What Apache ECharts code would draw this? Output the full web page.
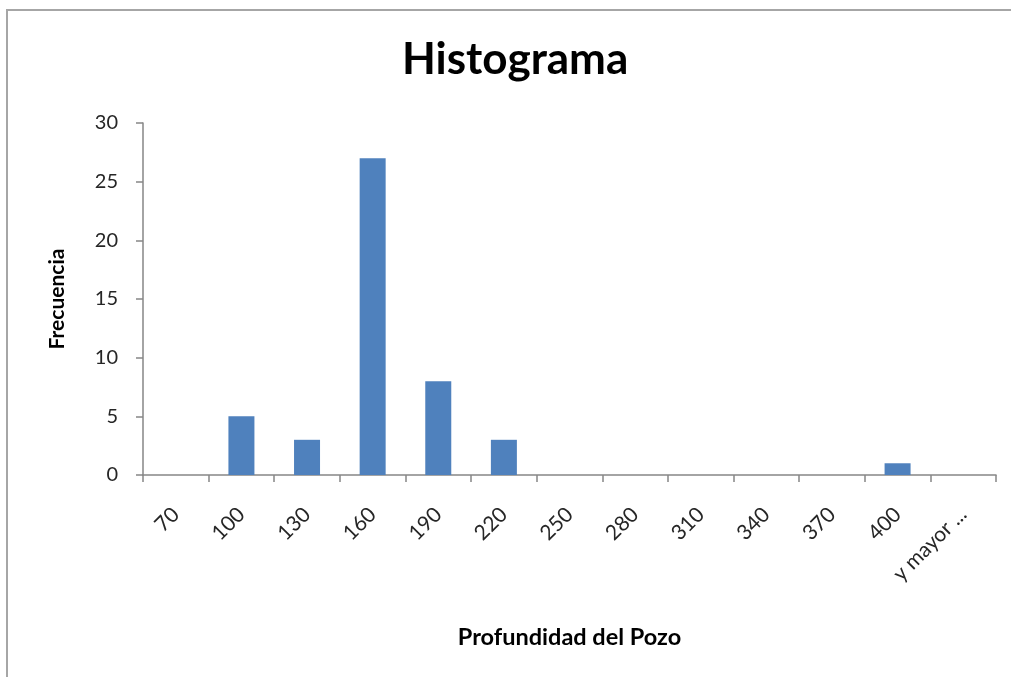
<!DOCTYPE html>
<html>
<head>
<meta charset="utf-8">
<script src="https://cdn.jsdelivr.net/npm/echarts@6/dist/echarts.min.js"></script>
<style>
  html, body { margin: 0; padding: 0; background: #fff; }
  #chart { width: 1011px; height: 677px; }
</style>
</head>
<body>
<div id="chart"></div>
<script>
// datos del histograma
var clases = ['70', '100', '130', '160', '190', '220', '250', '280', '310', '340', '370', '400', 'y mayor ...'];
var frecuencia = [0, 5, 3, 27, 8, 3, 0, 0, 0, 0, 0, 1, 0];
var yTicks = [0, 5, 10, 15, 20, 25, 30];

var myChart = echarts.init(document.getElementById('chart'));
var fuente = 'Lato, "Open Sans", sans-serif';

var option = {
  backgroundColor: '#fff',
  animation: false,
  title: {
    text: 'Histograma',
    left: 397,
    top: 33,
    textStyle: { fontFamily: fuente, fontSize: 44, fontWeight: 'bold', color: '#000' }
  },
  graphic: [{
    type: 'rect',
    shape: { x: 7, y: 10, width: 1100, height: 700 },
    style: { fill: 'none', stroke: '#a6a6a6', lineWidth: 2 },
    silent: true
  }],
  grid: { left: 143, right: 15, top: 123, bottom: 202, containLabel: false },
  xAxis: {
    type: 'category',
    data: clases,
    name: 'Profundidad del Pozo',
    nameLocation: 'middle',
    nameGap: 150,
    nameTextStyle: { fontFamily: fuente, fontSize: 23.5, fontWeight: 'bold', color: '#000', verticalAlign: 'top' },
    axisLine: { lineStyle: { color: '#868686', width: 1.5 } },
    axisTick: { show: true, length: 7, lineStyle: { color: '#868686', width: 1.5 } },
    axisLabel: { rotate: 45, fontFamily: fuente, fontSize: 21, color: '#262626', margin: 36, interval: 0 }
  },
  yAxis: {
    type: 'value',
    min: 0,
    max: 30,
    interval: 5,
    name: 'Frecuencia',
    nameLocation: 'middle',
    nameGap: 75,
    nameRotate: 90,
    nameTextStyle: { fontFamily: fuente, fontSize: 21, fontWeight: 'bold', color: '#000' },
    axisLine: { show: true, lineStyle: { color: '#868686', width: 1.5 } },
    axisTick: { show: true, length: 7, lineStyle: { color: '#868686', width: 1.5 } },
    axisLabel: {
      fontFamily: fuente, fontSize: 20, color: '#262626', margin: 25,
      formatter: function (v) { return yTicks.indexOf(v) >= 0 ? String(v) : ''; }
    },
    splitLine: { show: false }
  },
  series: [{
    type: 'bar',
    data: frecuencia,
    barWidth: 26,
    itemStyle: { color: '#4f81bd' }
  }]
};

myChart.setOption(option);
</script>
</body>
</html>
